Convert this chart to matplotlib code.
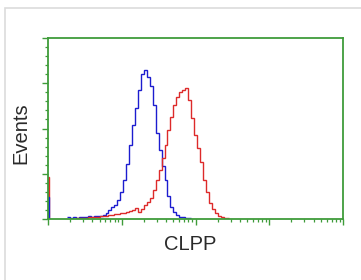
import numpy as np
import matplotlib
matplotlib.use("Agg")
import matplotlib.pyplot as plt
from matplotlib.ticker import LogLocator, MultipleLocator, NullFormatter
from matplotlib.patches import Rectangle

# ---- data ----
# histogram bins are 0.04 decade wide, starting at the given decade
bin_width_decades = 0.04

blue_start_decade = 0.26
blue_counts = [2, 1, 2, 1, 2, 2, 2, 3, 2, 3, 3, 3, 4, 7, 10, 13, 15, 21, 30, 43,
               61, 82, 104, 123, 143, 160, 165, 157, 147, 126, 95, 76, 59, 43,
               25, 13, 8, 4, 2, 2, 1, 1]

red_start_decade = 0.38
red_counts = [1, 1, 1, 1, 2, 2, 2, 2, 3, 3, 3, 4, 4, 5, 5, 7, 7, 8, 9, 10, 12,
              8, 11, 15, 19, 23, 32, 43, 54, 67, 82, 98, 113, 126, 135, 140,
              143, 145, 131, 112, 93, 78, 63, 43, 30, 18, 11, 7, 3, 2, 1, 1]

# pile-up in the first channel (at the axis origin)
spike_edges = [1.0, 1.035]
spike_blue = [24]
spike_red = [46]

x_label = "CLPP"
y_label = "Events"

# ---- style ----
green = "#3f9c3a"
blue = "#1c1ccf"
red = "#dd2a2a"

fig = plt.figure(figsize=(3.61, 2.80), dpi=100)
fig.patch.set_facecolor("white")

# light gray card frame
fig.patches.append(Rectangle((5 / 361, -0.05), 1.2, 1 - 8 / 280 + 0.05,
                             transform=fig.transFigure, fill=False,
                             edgecolor="#dcdcdc", linewidth=1.2))

ax = fig.add_axes([48 / 361, 1 - 219 / 280, (343 - 48) / 361, (219 - 38) / 280])

def edges(start, n):
    return 10 ** (start + bin_width_decades * np.arange(n + 1))

ax.stairs(blue_counts, edges(blue_start_decade, len(blue_counts)),
          color=blue, linewidth=1.0, baseline=None)
ax.stairs(red_counts, edges(red_start_decade, len(red_counts)),
          color=red, linewidth=1.0, baseline=None)
ax.stairs(spike_red, spike_edges, color=red, linewidth=1.0)
ax.stairs(spike_blue, spike_edges, color=blue, linewidth=1.0)

ax.set_xscale("log")
ax.set_xlim(1, 1e4)
ax.set_ylim(0, 200)

ax.xaxis.set_major_locator(LogLocator(base=10, numticks=10))
ax.xaxis.set_minor_locator(LogLocator(base=10, subs=np.arange(2, 10), numticks=20))
ax.xaxis.set_major_formatter(NullFormatter())
ax.xaxis.set_minor_formatter(NullFormatter())
ax.yaxis.set_major_locator(MultipleLocator(50))
ax.yaxis.set_minor_locator(MultipleLocator(10))
ax.yaxis.set_major_formatter(NullFormatter())

for s in ax.spines.values():
    s.set_color(green)
    s.set_linewidth(1.3)

ax.tick_params(which="major", direction="out", length=4.0, width=1.0, color=green)
ax.tick_params(which="minor", direction="out", length=2.2, width=0.9, color=green)
ax.tick_params(top=False, right=False)

fig.text(21 / 361, 1 - 133 / 280, y_label, rotation=90, ha="center", va="center",
         fontsize=14.5, family="Liberation Sans", color="#2a2a2a")
fig.text(190 / 361, 1 - 244 / 280, x_label, ha="center", va="center",
         fontsize=14.5, family="Liberation Sans", color="#2a2a2a")

fig.savefig("out.png", dpi=100, facecolor="white")
